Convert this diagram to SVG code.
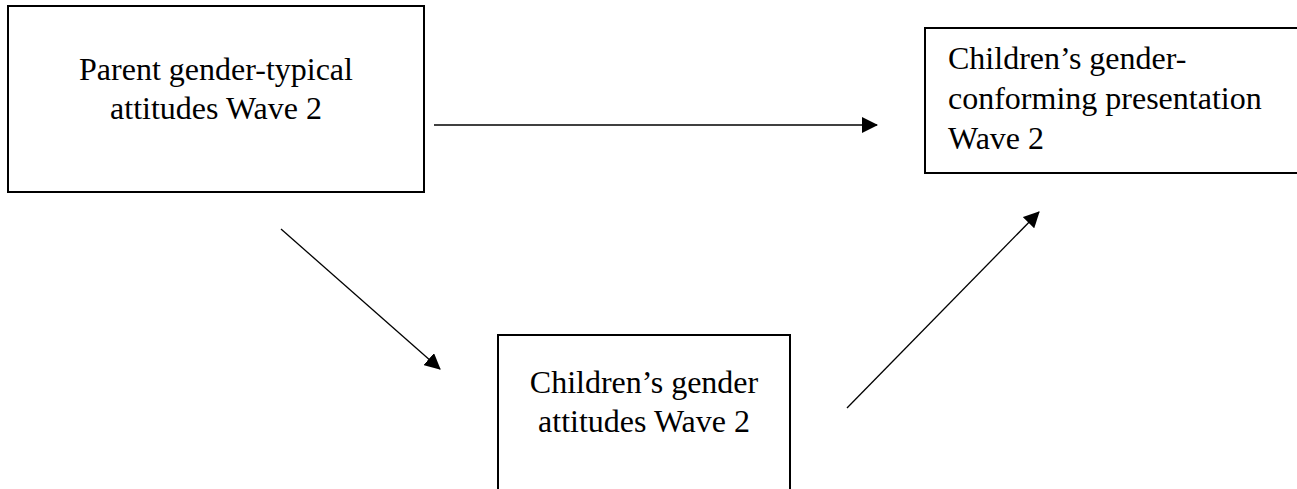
<svg xmlns="http://www.w3.org/2000/svg" width="1297" height="489" viewBox="0 0 1297 489">
<style>
.box{fill:#fff;stroke:#000;stroke-width:2}
.t{font-family:"Liberation Serif","Times New Roman",serif;font-size:32px;fill:#000}
.c{text-anchor:middle}
.edge{stroke:#000;stroke-width:1.3;fill:none;marker-end:url(#ah)}
</style>
<defs>
<marker id="ah" markerUnits="userSpaceOnUse" markerWidth="16" markerHeight="16" viewBox="0 0 16 16" refX="15" refY="8" orient="auto">
<path d="M0,0 L16,8 L0,16 Z" fill="#000"/>
</marker>
</defs>
<rect width="1297" height="489" fill="#fff"/>
<g id="parent">
<rect class="box" x="8" y="6" width="416" height="186"/>
<text class="t c" x="216" y="80">Parent gender-typical</text>
<text class="t c" x="216" y="119">attitudes Wave 2</text>
</g>
<g id="presentation">
<rect class="box" x="925" y="28" width="380" height="145"/>
<text class="t" x="948" y="69">Children’s gender-</text>
<text class="t" x="948" y="109">conforming presentation</text>
<text class="t" x="948" y="149">Wave 2</text>
</g>
<g id="childattitudes">
<rect class="box" x="498" y="335" width="292" height="170"/>
<text class="t c" x="644" y="393">Children’s gender</text>
<text class="t c" x="644" y="432">attitudes Wave 2</text>
</g>
<g id="connectors">
<line class="edge" x1="434" y1="125" x2="877" y2="125"/>
<line class="edge" x1="281" y1="229" x2="440" y2="369"/>
<line class="edge" x1="847" y1="408" x2="1039" y2="212"/>
</g>
</svg>
